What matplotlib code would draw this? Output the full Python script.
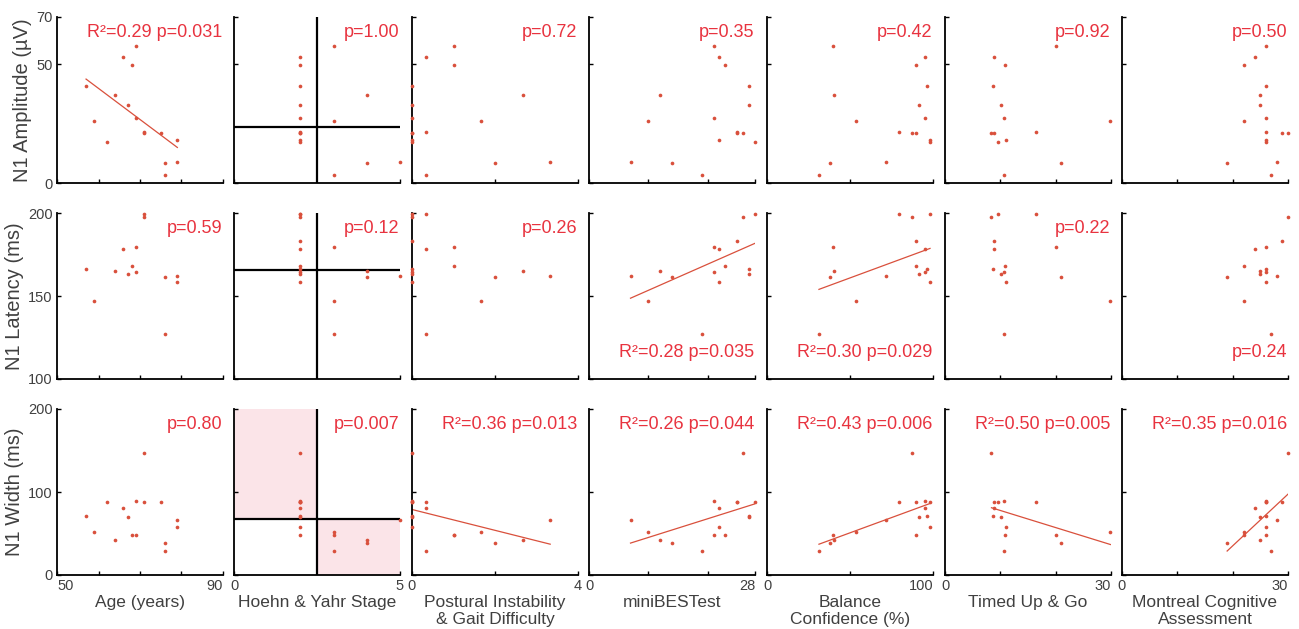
"""
N1 amplitude / latency / width vs clinical measures (16 subjects)
"""
import numpy as np
import matplotlib.pyplot as plt

plt.rcParams['font.family'] = ['Liberation Sans', 'DejaVu Sans']

nan = np.nan

# clinical measures, one value per subject
age = [57, 59, 62, 64, 66, 67, 68, 69, 69, 71, 71, 75, 76, 76, 79, 79]
hoehn_yahr = [2, 3, 2, 4, 2, 2, 2, 3, 2, 2, 2, 2, 4, 3, 2, 5]
pigd = [0, 1.67, 0, 2.67, 0.33, 0, 1, 1, 0, 0.33, 0, 0, 2, 0.33, 0, 3.33]
minibest = [27, 10, 28, 12, 22, 27, 23, 21, 21, 25, 26, 25, 14, 19, 22, 7]
abc = [96.4, 53.8, 98.2, 40.6, 95.0, 91.4, 90.0, 40.0, 95.0, 79.3, 87.3, 90.0, 38.2, 31.3, 98.2, 71.9]
tug = [8.75, 29.9, 9.6, nan, 8.9, 10.1, 10.8, 20.0, 10.6, 16.4, 8.4, 8.9, 20.9, 10.6, 11.0, nan]
moca = [26, 22, 26, 25, 24, 25, 22, 26, 26, 26, 30, 29, 19, 27, 26, 28]

# N1 measures
n1_amp = [41.0, 26.1, 17.4, 37.1, 53.1, 32.8, 49.6, 57.6, 27.4, 21.4, 20.9, 21.1, 8.4, 3.4, 18.3, 8.7]
n1_lat = [166.3, 147.1, 199.4, 165.3, 178.4, 163.2, 168.3, 179.4, 164.2, 199.4, 197.4, 183.4,
          161.2, 127.1, 158.2, 162.2]
n1_width = [70.7, 52.0, 88.5, 41.6, 80.8, 69.5, 48.5, 47.7, 89.3, 87.7, 147.5, 88.5, 38.0, 29.1,
            58.2, 66.3]

# latency dots that do not show in the original panels (column -> subject index)
lat_hidden = {0: [2, 11], 3: [9], 6: [2, 9]}

x_names = ['Age (years)', 'Hoehn & Yahr Stage', 'Postural Instability\n& Gait Difficulty',
           'miniBESTest', 'Balance\nConfidence (%)', 'Timed Up & Go',
           'Montreal Cognitive\nAssessment']
x_lims = [(50, 90), (0, 5), (0, 4), (0, 28), (0, 100), (0, 30), (0, 30)]
x_ticks = [[50, 60, 70, 80, 90], [0, 5], [0, 2, 4], [0, 10, 20, 28], [0, 50, 100],
           [0, 10, 20, 30], [0, 10, 20, 30]]

y_names = ['N1 Amplitude (\u00b5V)', 'N1 Latency (ms)', 'N1 Width (ms)']
y_lims = [(0, 70), (100, 200), (0, 200)]
y_ticks = [[0, 50, 70], [100, 150, 200], [0, 100, 200]]

stats = [
    ['R\u00b2=0.29 p=0.031', 'p=1.00', 'p=0.72', 'p=0.35', 'p=0.42', 'p=0.92', 'p=0.50'],
    ['p=0.59', 'p=0.12', 'p=0.26', 'R\u00b2=0.28 p=0.035', 'R\u00b2=0.30 p=0.029', 'p=0.22', 'p=0.24'],
    ['p=0.80', 'p=0.007', 'R\u00b2=0.36 p=0.013', 'R\u00b2=0.26 p=0.044', 'R\u00b2=0.43 p=0.006',
     'R\u00b2=0.50 p=0.005', 'R\u00b2=0.35 p=0.016'],
]
stats_at_bottom = [(1, 3), (1, 4), (1, 6)]

DOT = '#d9503c'
TXT = '#e8333f'
GRAY = '#404040'
PINK = '#fbe4e8'


def plot_grid():
    xs = [age, hoehn_yahr, pigd, minibest, abc, tug, moca]
    ys = [n1_amp, n1_lat, n1_width]
    W, H = 1299, 629
    col_left = [57, 234, 412, 589, 767, 945, 1122]
    row_top = [17, 213, 409]
    size = 166
    fig = plt.figure(figsize=(W / 100, H / 100), dpi=100)
    for r in range(3):
        for c in range(7):
            x = np.array(xs[c], dtype=float)
            y = np.array(ys[r], dtype=float)
            ax = fig.add_axes([col_left[c] / W, 1 - (row_top[r] + size) / H, size / W, size / H])
            ax.set_xlim(*x_lims[c])
            ax.set_ylim(*y_lims[r])
            if c == 1:
                # split at H&Y 2.5 and median of N1 measure
                med = np.median(y)
                if r == 2:
                    ax.fill_between([0, 2.5], med, y_lims[r][1], color=PINK, lw=0, zorder=0)
                    ax.fill_between([2.5, 5], y_lims[r][0], med, color=PINK, lw=0, zorder=0)
                ax.axvline(2.5, color='k', lw=1.6, zorder=1)
                ax.axhline(med, color='k', lw=1.6, zorder=1)
            shown = y.copy()
            if r == 1 and c in lat_hidden:
                shown[lat_hidden[c]] = nan
            ax.scatter(x, shown, s=7, color=DOT, lw=0, zorder=3, clip_on=False)
            label = stats[r][c]
            if label.startswith('R'):
                ok = ~np.isnan(x) & ~np.isnan(y)
                k, b = np.polyfit(x[ok], y[ok], 1)
                xx = np.array([x[ok].min(), x[ok].max()])
                ax.plot(xx, k * xx + b, color=DOT, lw=0.9, zorder=2)
            ty = 0.16 if (r, c) in stats_at_bottom else 0.905
            ax.text(0.995, ty, label, transform=ax.transAxes, ha='right', va='center',
                    color=TXT, fontsize=13)
            for s in ['top', 'right']:
                ax.spines[s].set_visible(False)
            for s in ['left', 'bottom']:
                ax.spines[s].set_linewidth(1.3)
                ax.spines[s].set_color('k')
            ax.tick_params(direction='in', length=3, width=1, color='k', labelcolor=GRAY,
                           labelsize=10.5, pad=3)
            ax.set_xticks(x_ticks[c])
            ax.set_yticks(y_ticks[r])
            if r == 2:
                lo, hi = x_lims[c]
                ax.set_xticklabels([str(t) if t in (lo, hi) else '' for t in x_ticks[c]])
                for t in ax.get_xticklabels():
                    if t.get_text() == str(hi) and len(t.get_text()) > 1:
                        t.set_horizontalalignment('right')
                    elif t.get_text() == str(lo) and len(t.get_text()) > 1:
                        t.set_horizontalalignment('left')
                ax.set_xlabel(x_names[c], fontsize=12.5, color=GRAY, labelpad=1)
            else:
                ax.set_xticklabels([])
            if c == 0:
                ax.set_yticklabels([str(t) for t in y_ticks[r]])
                ax.set_ylabel(y_names[r], fontsize=14.5, color=GRAY, labelpad=3)
            else:
                ax.set_yticklabels([])
    fig.savefig('out.png', dpi=100)


if __name__ == '__main__':
    plot_grid()
